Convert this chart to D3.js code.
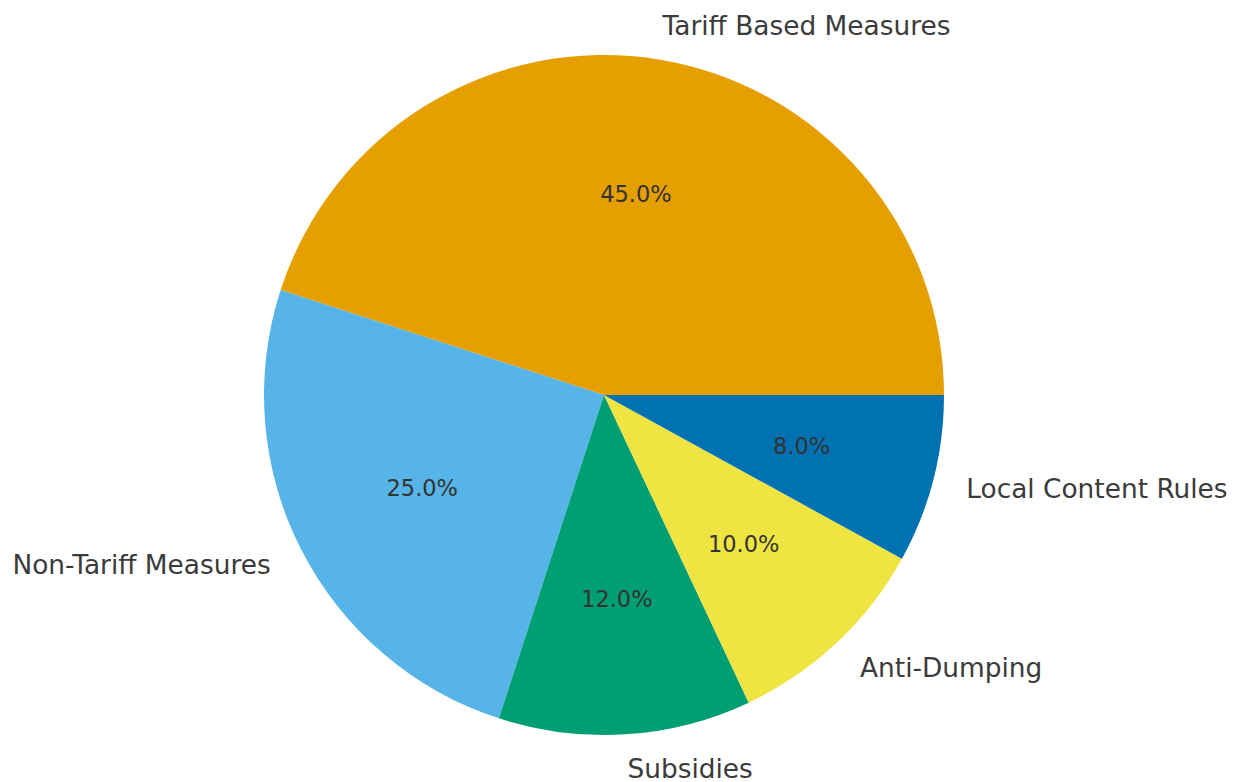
<!DOCTYPE html>
<html>
<head>
<meta charset="utf-8">
<script src="https://cdn.jsdelivr.net/npm/d3@7"></script>
<style>
  body { margin: 0; background: #fff; }
  svg { display: block; font-family: "DejaVu Sans", sans-serif; }
</style>
</head>
<body>
<svg id="chart"></svg>
<script>
// chart data
var categories = ["Tariff Based Measures", "Non-Tariff Measures", "Subsidies", "Anti-Dumping", "Local Content Rules"];
var shares = [45, 25, 12, 10, 8];
var colors = ["#E69F00", "#56B4E9", "#009E73", "#F0E442", "#0072B2"];

var width = 1238, height = 782;
var cx = 604, cy = 395, radius = 340;

var svg = d3.select("#chart")
	.attr("width", width)
	.attr("height", height);

var data = categories.map(function(c, i) {
	return { label: c, value: shares[i], color: colors[i] };
});

// matplotlib style: start at 3 o'clock, go counter-clockwise
var pie = d3.pie()
	.sort(null)
	.value(function(d) { return d.value; })
	.startAngle(Math.PI / 2)
	.endAngle(Math.PI / 2 - 2 * Math.PI);

var arc = d3.arc().innerRadius(0).outerRadius(radius);
var arcs = pie(data);
var total = d3.sum(shares);

var g = svg.append("g").attr("transform", "translate(" + cx + "," + cy + ")");

g.selectAll("path.slice").data(arcs)
	.enter()
	.append("path")
	.attr("class", "slice")
	.attr("d", arc)
	.attr("fill", function(d) { return d.data.color; });

// point at fraction of radius along the mid angle
var at = function(d, f) {
	var a = (d.startAngle + d.endAngle) / 2;
	return [Math.sin(a) * radius * f, -Math.cos(a) * radius * f];
};

// percentage labels
g.selectAll("text.pct").data(arcs)
	.enter()
	.append("text")
	.attr("class", "pct")
	.attr("x", function(d) { return at(d, 0.6)[0]; })
	.attr("y", function(d) { return at(d, 0.6)[1]; })
	.attr("text-anchor", "middle")
	.attr("dominant-baseline", "central")
	.attr("font-size", 22.5)
	.attr("fill", "#333")
	.text(function(d) { return (d.data.value / total * 100).toFixed(1) + "%"; });

// category labels
g.selectAll("text.lbl").data(arcs)
	.enter()
	.append("text")
	.attr("class", "lbl")
	.attr("x", function(d) { return at(d, 1.1)[0]; })
	.attr("y", function(d) { return at(d, 1.1)[1]; })
	.attr("text-anchor", function(d) { return at(d, 1.1)[0] < 0 ? "end" : "start"; })
	.attr("dominant-baseline", "central")
	.attr("font-size", 26.4)
	.attr("fill", "#3b3b3b")
	.text(function(d) { return d.data.label; });
</script>
</body>
</html>
